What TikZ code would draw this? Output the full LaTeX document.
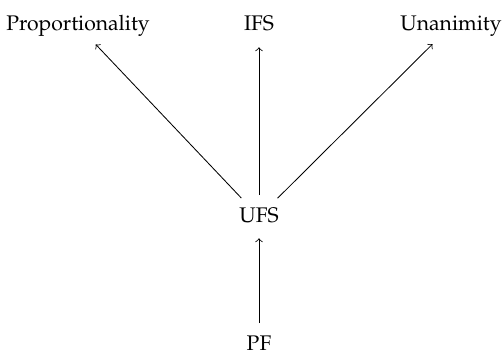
\documentclass[tikz,border=0pt]{standalone}
\usepackage[T1]{fontenc}
\usepackage{mathpazo}
\usepackage{tikz}
\usetikzlibrary{positioning}
\tikzset{prop/.style = {inner sep=0pt, anchor=base,
                        text height=0.75em, text depth=0.25em},
         imp/.style = {->, shorten >=5pt, shorten <=5pt}}

\begin{document}
\begin{tikzpicture}[x=0.473pt, y=-0.473pt]
    \useasboundingbox (0, 0) rectangle (504, 349);

    \node [prop] (prop) at (78, 31) {Proportionality};
    \node [prop] (ifs) at (259, 31) {IFS};
    \node [prop] (unan) at (451, 31) {Unanimity};
    \node [prop] (ufs) at (259, 222) {UFS};
    \node [prop] (pf) at (259, 350) {PF};

    \draw [imp] (ufs) -- (prop);
    \draw [imp] (ufs) -- (ifs);
    \draw [imp] (ufs) -- (unan);
    \draw [imp] (pf) -- (ufs);
  \end{tikzpicture}
\end{document}
